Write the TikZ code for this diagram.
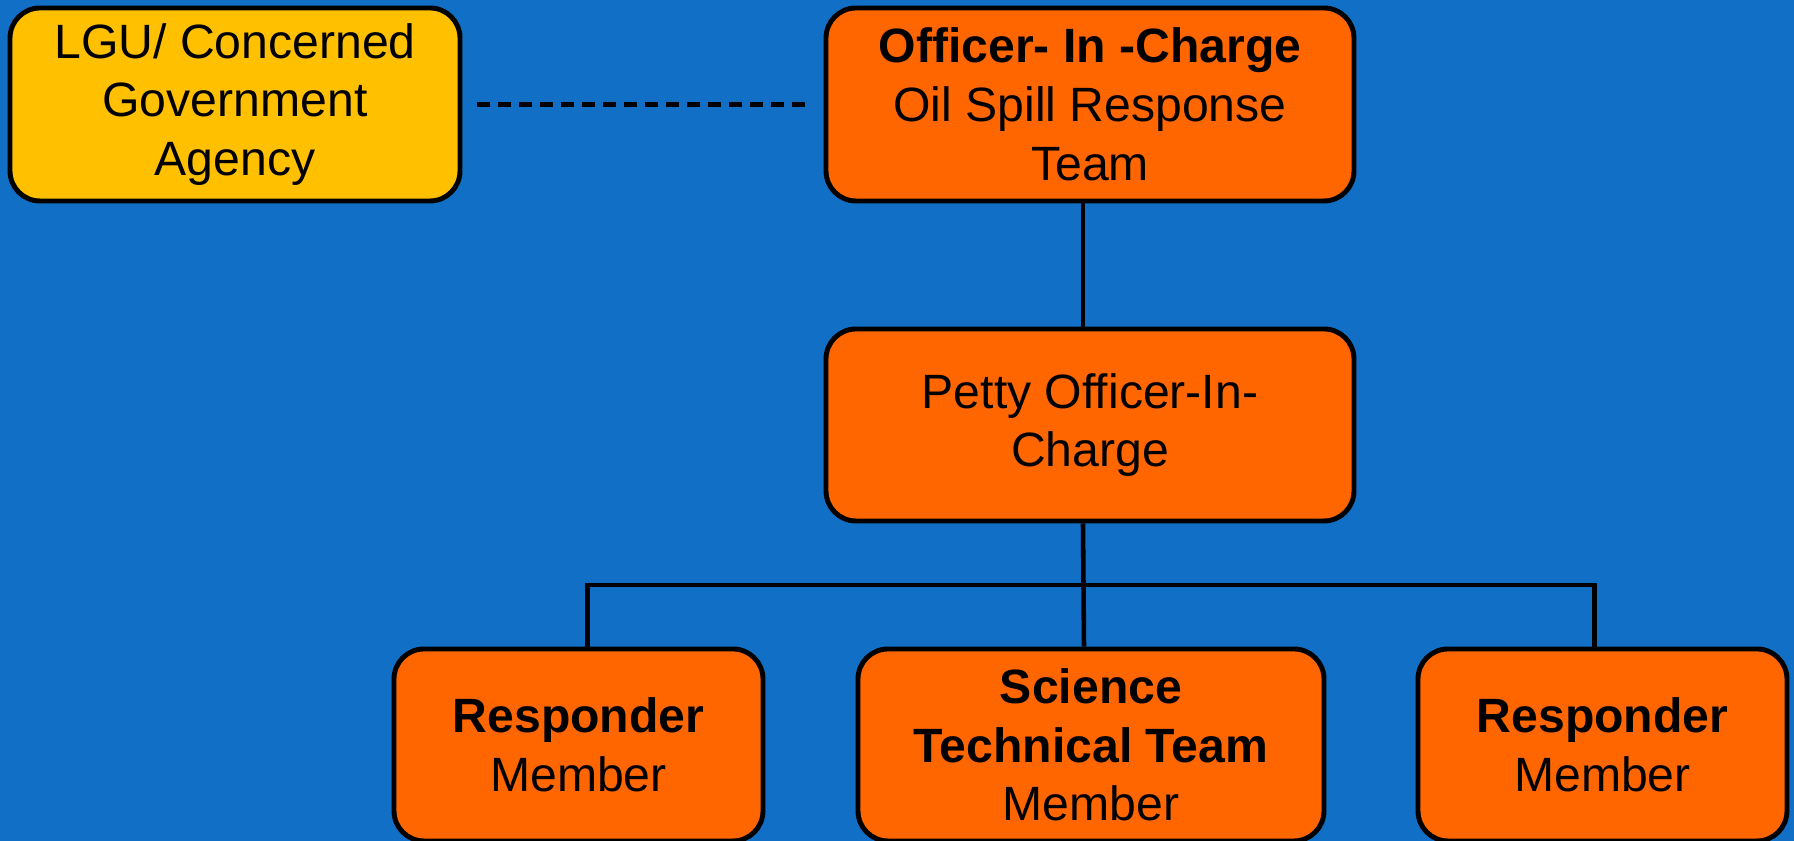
\documentclass[tikz,border=0pt]{standalone}
\usepackage{fontspec}
\setmainfont{Liberation Sans}
\usepackage{tikz}
\usetikzlibrary{positioning}

\definecolor{bgblue}{RGB}{17,112,197}
\definecolor{boxorange}{RGB}{255,102,0}
\definecolor{boxyellow}{RGB}{255,192,0}

\begin{document}
\begin{tikzpicture}
\tikzset{org/.style={draw=black, line width=1.4pt, rounded corners=0.3cm, fill=boxorange, align=center, font=\fontsize{13.7}{16.7}\selectfont, inner sep=0pt}}
\tikzset{lgubox/.style={org, fill=boxyellow}}

\useasboundingbox (0,0) rectangle (17.94,8.41);
\fill[bgblue] (0,0) rectangle (17.94,8.41);

\begin{scope}
\node [lgubox, minimum width=4.50cm, minimum height=1.93cm] (lgu) at (2.35,7.365) {LGU/ Concerned\\Government\\Agency};
\node [org, minimum width=5.28cm, minimum height=1.93cm] (oic) at (10.90,7.365) {\textbf{Officer- In -Charge}\\Oil Spill Response\\Team};
\node [org, minimum width=5.28cm, minimum height=1.92cm] (poic) at (10.90,4.16) {Petty Officer-In-\\Charge};
\node [org, minimum width=3.69cm, minimum height=1.92cm] (resp1) at (5.785,0.96) {\textbf{Responder}\\Member};
\node [org, minimum width=4.66cm, minimum height=1.92cm] (sci) at (10.91,0.96) {\textbf{Science}\\\textbf{Technical Team}\\Member};
\node [org, minimum width=3.69cm, minimum height=1.92cm] (resp2) at (16.025,0.96) {\textbf{Responder}\\Member};
\coordinate (bus) at (10.83,2.56);
\end{scope}
\begin{scope}[every path/.style={draw=black,line width=1.3pt}]
\path (lgu) edge[dash pattern=on 0.13cm off 0.08cm, shorten <=0.15cm, shorten >=0.16cm] (oic);
\path ([xshift=-0.07cm]oic.south) edge ([xshift=-0.07cm]poic.north);
\path ([xshift=-0.07cm]poic.south) edge ([xshift=-0.07cm]sci.north);
\draw ([xshift=0.09cm]resp1.north) |- (bus) -| ([xshift=-0.08cm]resp2.north);
\end{scope}

\end{tikzpicture}
\end{document}
